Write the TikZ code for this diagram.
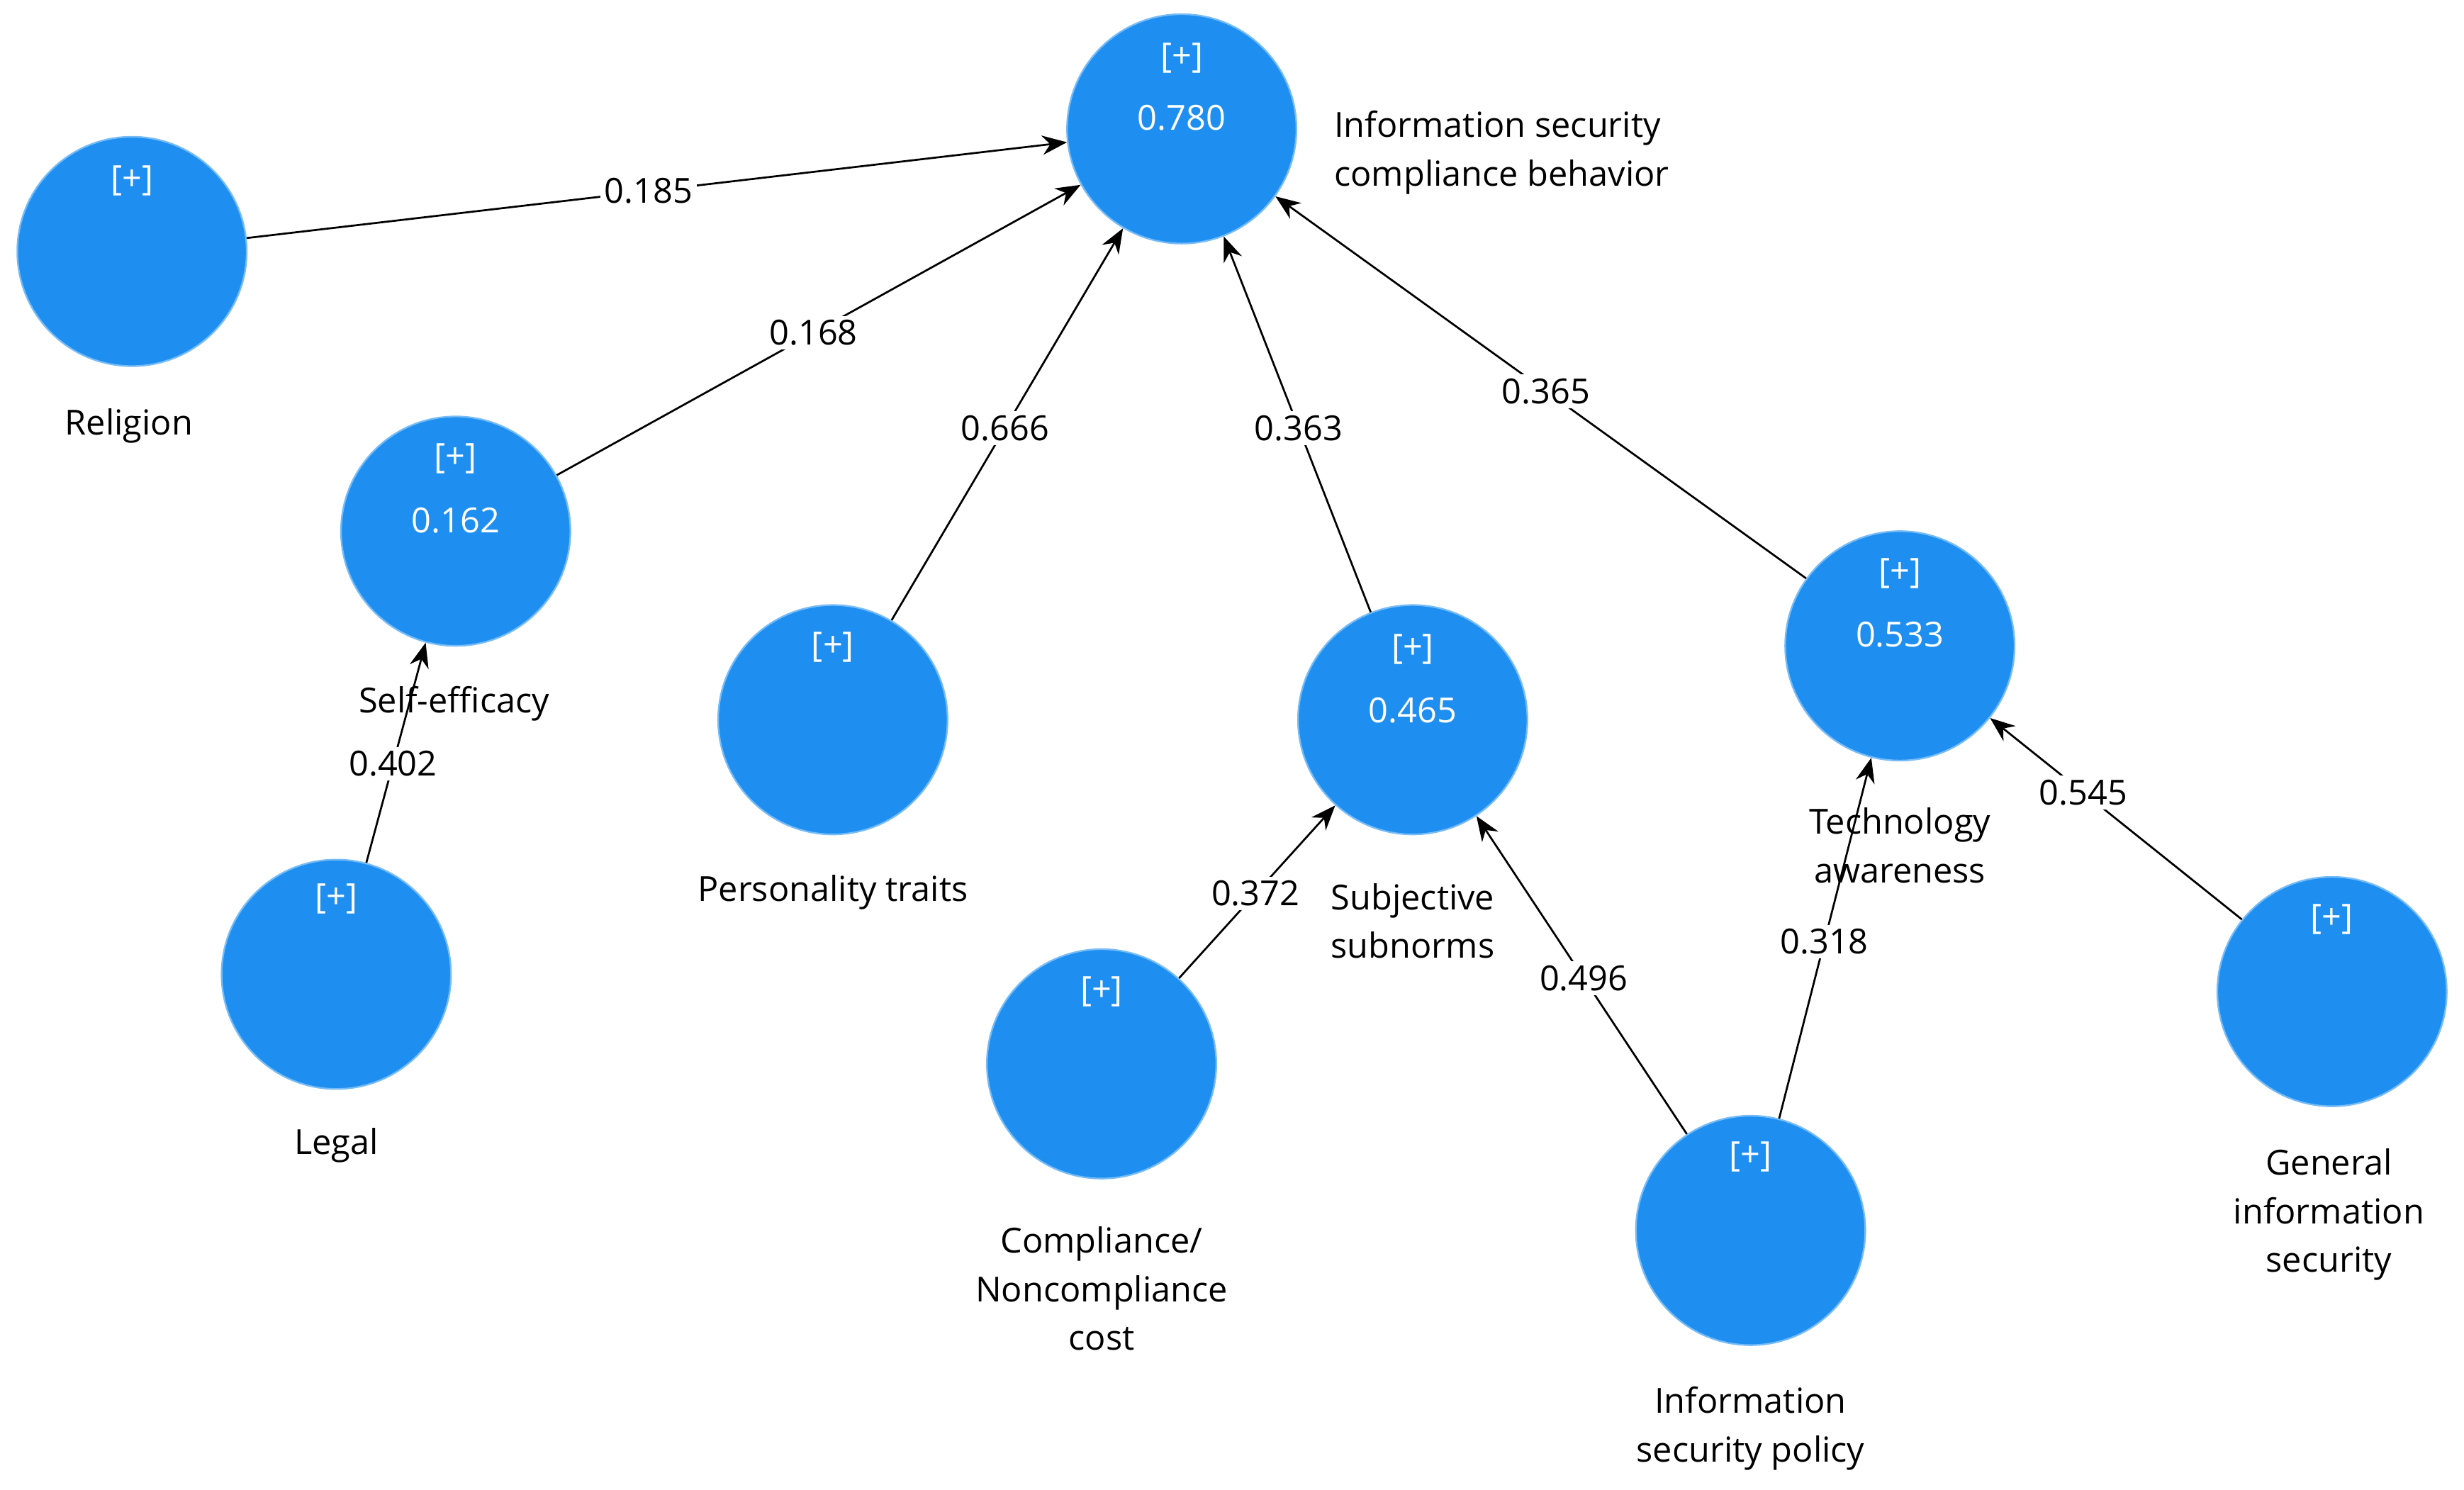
\documentclass[tikz,border=0pt]{standalone}
\usepackage{fontspec}
\setmainfont{Open Sans}
\usetikzlibrary{arrows.meta}
\definecolor{cb}{HTML}{1E8FF0}
\begin{document}
\begin{tikzpicture}[x=0.02cm,y=-0.02cm,
  lv/.style={circle,fill=cb,draw=cb!60,line width=0.6pt,minimum size=2.92cm,inner sep=0pt},
  plus/.style={text=white,font=\fontsize{12.5}{15}\selectfont},
  lab/.style={font=\fontsize{12.5}{17.6}\selectfont,align=center,inner sep=1pt},
  el/.style={fill=white,font=\fontsize{12.5}{15}\selectfont,inner sep=1.5pt,pos=0.49},
  arr/.style={-{Stealth[length=9pt,width=7pt]},line width=0.7pt,black}]
\useasboundingbox (0,0) rectangle (1568,948);
\node[lv] (iscb) at (752,82) {};
\node[lv] (rel) at (84,160) {};
\node[lv] (se) at (290,338) {};
\node[lv] (pt) at (530,458) {};
\node[lv] (ss) at (899,458) {};
\node[lv] (ta) at (1209,411) {};
\node[lv] (leg) at (214,620) {};
\node[lv] (cc) at (701,677) {};
\node[lv] (isp) at (1114,783) {};
\node[lv] (gis) at (1484,631) {};
% inner texts
\foreach \n/\y in {iscb/37,rel/115,se/292,pt/412,ss/413,ta/365,leg/572,cc/631,isp/736,gis/585}
  \node[plus] (p\n) at (\n |- 0,\y) {[+]};
\node[plus] (viscb) at (752,75) {0.780};
\node[plus] (vse) at (290,331) {0.162};
\node[plus] (vss) at (899,452) {0.465};
\node[plus] (vta) at (1209,404) {0.533};
% outer labels
\node[lab,anchor=west,align=left] (liscb) at (847,97) {Information security\\compliance behavior};
\node[lab] (lrel) at (82,271) {Religion};
\node[lab] (lse) at (289,448) {Self-efficacy};
\node[lab] (lpt) at (530,568) {Personality traits};
\node[lab] (lss) at (899,586) {Subjective\\subnorms};
\node[lab] (lta) at (1209,538) {Technology\\awareness};
\node[lab] (lleg) at (214,729) {Legal};
\node[lab] (lcc) at (701,820) {Compliance/\\Noncompliance\\cost};
\node[lab] (lisp) at (1114,909) {Information\\security policy};
\node[lab] (lgis) at (1482,773) {General\\information\\security};
% edges
\draw[arr] (rel) -- node[el]{0.185} (iscb);
\draw[arr] (se) -- node[el]{0.168} (iscb);
\draw[arr] (pt) -- node[el]{0.666} (iscb);
\draw[arr] (ss) -- node[el]{0.363} (iscb);
\draw[arr] (ta) -- node[el]{0.365} (iscb);
\draw[arr] (leg) -- node[el,pos=0.45]{0.402} (se);
\draw[arr] (cc) -- node[el]{0.372} (ss);
\draw[arr] (isp) -- node[el]{0.496} (ss);
\draw[arr] (isp) -- node[el]{0.318} (ta);
\draw[arr] (gis) -- node[el,pos=0.63]{0.545} (ta);
\end{tikzpicture}
\end{document}
